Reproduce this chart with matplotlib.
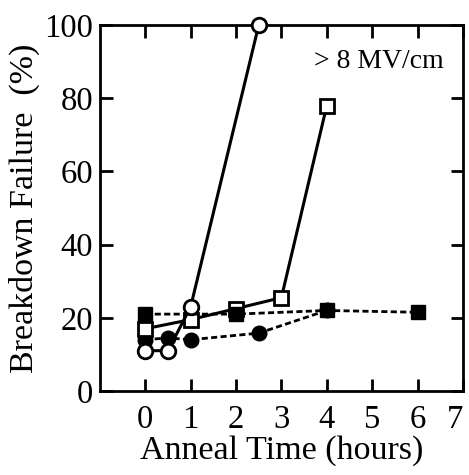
import numpy as np
import matplotlib
matplotlib.use('Agg')
import matplotlib.pyplot as plt
import matplotlib.transforms as mtransforms

plt.rcParams['font.family'] = ['Liberation Serif', 'DejaVu Serif']

# open circles, solid line
oc_t = [0, 0.5, 1, 2.5]
oc_y = [11, 11, 23, 100]
# open squares, solid line
os_t = [0, 1, 2, 3, 4]
os_y = [17, 19.5, 22.5, 25.5, 78]
# filled squares, dashed line
fs_t = [0, 2, 4, 6]
fs_y = [21, 21, 22, 21.5]
# filled circles, dashed line
fc_t = [0, 0.5, 1, 2.5, 4]
fc_y = [14, 14.5, 14, 15.8, 22]

fig = plt.figure(figsize=(4.69, 4.75), dpi=100)
ax = fig.add_axes([0.213, 0.177, 0.774, 0.77])

ms = 10.5
dash = (0, (2.2, 1.2))
ax.plot(fc_t, fc_y, color='k', lw=2, ls=dash, marker='o', ms=ms,
        mfc='k', mec='k', zorder=3, clip_on=False)
ax.plot(os_t, os_y, color='k', lw=2.2, marker='s', ms=ms,
        mfc='white', mec='k', mew=2, zorder=4, clip_on=False)
ax.plot(fs_t, fs_y, color='k', lw=2, ls=dash, marker='s', ms=ms,
        mfc='k', mec='k', zorder=4.5, clip_on=False)
ax.plot(oc_t, oc_y, color='k', lw=2.2, marker='o', ms=ms,
        mfc='white', mec='k', mew=2, zorder=5, clip_on=False)

ax.set_xlim(-1, 7)
ax.set_ylim(0, 100)
ax.set_xticks(range(0, 8))
ax.set_yticks(range(0, 101, 20))
ax.tick_params(direction='in', length=9, width=2, top=True, right=True,
               labelsize=23.5)
ax.tick_params(axis='x', pad=10)
ax.tick_params(axis='y', pad=5)
for s in ax.spines.values():
    s.set_linewidth(2)

# last x label sits a bit left so it stays inside the figure
lab7 = ax.get_xticklabels()[-1]
lab7.set_transform(lab7.get_transform() +
                   mtransforms.ScaledTranslation(-6/72, 0, fig.dpi_scale_trans))

ax.set_xlabel('Anneal Time (hours)', fontsize=24.5, labelpad=0)
ax.set_ylabel('Breakdown Failure  (%)', fontsize=24.5, labelpad=3)
ax.text(3.72, 90, '> 8 MV/cm', fontsize=20, va='center', ha='left')

fig.savefig('out.png', dpi=100)
